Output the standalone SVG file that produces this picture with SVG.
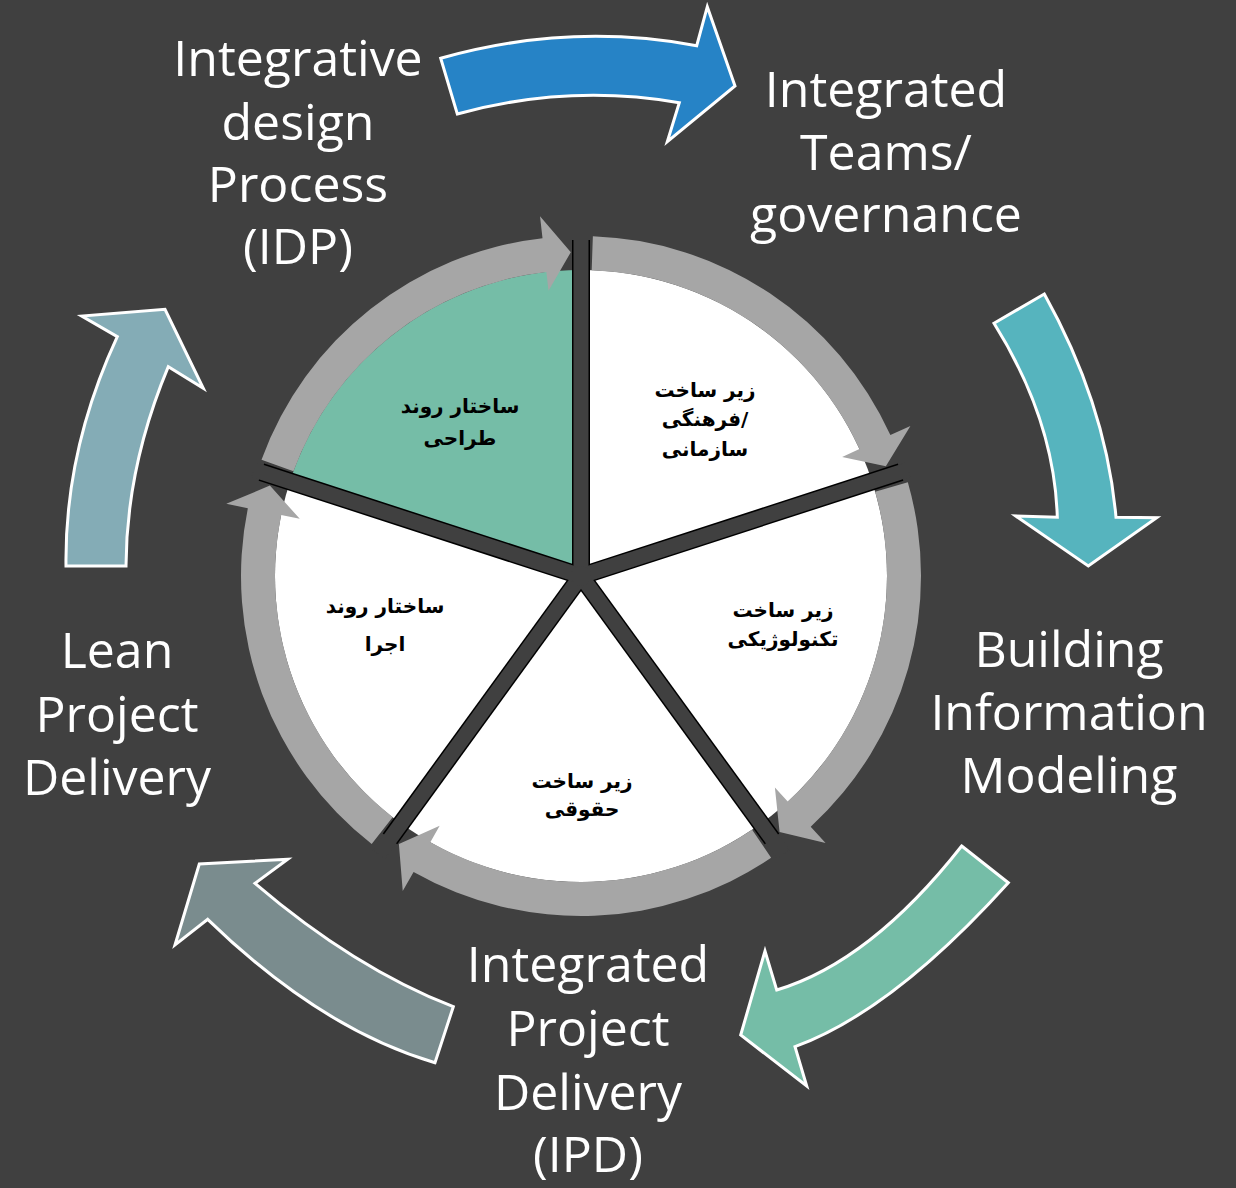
<svg xmlns="http://www.w3.org/2000/svg" width="1236" height="1188" viewBox="0 0 1236 1188">
  <style>
    .lbl { font-family: "Open Sans", "Liberation Sans", sans-serif; font-size: 50px; fill: #FFFFFF; text-anchor: middle; }
    .fa { font-family: "DejaVu Sans", "Noto Sans", sans-serif; font-weight: bold; font-size: 20px; fill: #000000; text-anchor: middle; }
    .big { stroke: #FFFFFF; stroke-width: 3; stroke-linejoin: miter; }
    .ring { fill: #A6A6A6; }
    .spokeB { stroke: #000000; stroke-width: 18; fill: none; }
    .spokeD { stroke: #404040; stroke-width: 15; fill: none; }
  </style>
  <rect x="0" y="0" width="1236" height="1188" fill="#404040"/>

  <g id="connectors">
    <path id="arrow-idp-teams" class="big" fill="#2683C6" d="M440.7,58.3 Q569,22 696.7,45.7 L707.3,6.7 L735,86 L667.3,141.7 L679.3,102.7 Q568,83.5 457.3,114 Z"/>
    <path id="arrow-teams-bim" class="big" fill="#56B4BE" d="M994,323.3 L1044.3,294 Q1106,404.5 1116,517.3 L1156.7,517.7 L1088.3,566 L1015.7,516 L1057.3,517.3 Q1054.5,420 994,323.3 Z"/>
    <path id="arrow-bim-ipd" class="big" fill="#75BDA7" d="M961.7,846 L1008.3,882.7 Q892.5,1011 795,1046.7 L806.7,1086 L740.7,1035 L765,951 L776.7,990 Q870.5,962 961.7,846 Z"/>
    <path id="arrow-ipd-lean" class="big" fill="#7A8C8E" d="M453.3,1006.7 L435,1062.7 Q320.5,1029 207.7,919.3 L175,945 L199.3,864 L287.7,859.3 L255,883.3 Q354,968 453.3,1006.7 Z"/>
    <path id="arrow-lean-idp" class="big" fill="#84ACB6" d="M66,566 L126,566 Q126.4,467 168.3,366.7 L203.3,388.3 L165,309.3 L81.7,316 L117.3,336.7 Q64.5,450.5 66,566 Z"/>
  </g>

  <g id="cycle">
    <g id="sector-design">
      <path fill="#75BDA7" d="M581,576 L290.0,481.4 A306,306 0 0 1 581,270 Z"/>
      <text class="fa" x="460" y="413">ساختار روند</text>
      <text class="fa" x="460" y="445">طراحی</text>
    </g>
    <g id="sector-culture">
      <path fill="#FFFFFF" d="M581,576 L581,270 A306,306 0 0 1 872.0,481.4 Z"/>
      <text class="fa" x="705" y="397">زیر ساخت</text>
      <text class="fa" x="705" y="426">فرهنگی/</text>
      <text class="fa" x="705" y="456">سازمانی</text>
    </g>
    <g id="sector-tech">
      <path fill="#FFFFFF" d="M581,576 L872.0,481.4 A306,306 0 0 1 760.9,823.6 Z"/>
      <text class="fa" x="783" y="617">زیر ساخت</text>
      <text class="fa" x="783" y="646">تکنولوژیکی</text>
    </g>
    <g id="sector-legal">
      <path fill="#FFFFFF" d="M581,576 L760.9,823.6 A306,306 0 0 1 401.1,823.6 Z"/>
      <text class="fa" x="582" y="788">زیر ساخت</text>
      <text class="fa" x="582" y="816">حقوقی</text>
    </g>
    <g id="sector-exec">
      <path fill="#FFFFFF" d="M581,576 L401.1,823.6 A306,306 0 0 1 290.0,481.4 Z"/>
      <text class="fa" x="385" y="613">ساختار روند</text>
      <text class="fa" x="385" y="651">اجرا</text>
    </g>

    <g id="spokes">
      <line class="spokeB" x1="581" y1="576" x2="581" y2="240"/>
      <line class="spokeB" x1="581" y1="576" x2="900.6" y2="472.1"/>
      <line class="spokeB" x1="581" y1="576" x2="772.0" y2="838.9"/>
      <line class="spokeB" x1="581" y1="576" x2="390.0" y2="838.9"/>
      <line class="spokeB" x1="581" y1="576" x2="261.4" y2="472.1"/>
      <line class="spokeD" x1="581" y1="576" x2="581" y2="232"/>
      <line class="spokeD" x1="581" y1="576" x2="908.2" y2="469.7"/>
      <line class="spokeD" x1="581" y1="576" x2="783.2" y2="854.3"/>
      <line class="spokeD" x1="581" y1="576" x2="378.8" y2="854.3"/>
      <line class="spokeD" x1="581" y1="576" x2="253.8" y2="469.7"/>
      <circle cx="581" cy="576" r="10" fill="#404040"/>
    </g>

    <g id="ring">
      <path class="ring" d="M592.87,236.21 A340,340 0 0 1 890.39,435.00 L910.41,425.88 L885.85,466.25 L842.16,456.98 L859.45,449.10 A306,306 0 0 0 591.68,270.19 Z"/>
      <path class="ring" d="M907.83,482.28 A340,340 0 0 1 810.70,826.68 L825.56,842.90 L779.58,832.01 L774.89,787.60 L787.73,801.61 A306,306 0 0 0 875.15,491.65 Z"/>
      <path class="ring" d="M771.12,857.87 A340,340 0 0 1 413.58,871.92 L402.74,891.07 L398.89,843.97 L439.68,825.79 L430.32,842.33 A306,306 0 0 0 752.11,829.69 Z"/>
      <path class="ring" d="M371.68,843.92 A340,340 0 0 1 247.83,508.21 L226.27,503.83 L269.87,485.61 L299.76,518.78 L281.14,514.99 A306,306 0 0 0 392.61,817.13 Z"/>
      <path class="ring" d="M261.50,459.71 A340,340 0 0 1 542.51,238.19 L540.02,216.33 L570.82,252.16 L548.51,290.85 L546.36,271.97 A306,306 0 0 0 293.45,471.34 Z"/>
    </g>
  </g>

  <g id="node-idp">
    <text class="lbl" x="298" y="76">Integrative</text>
    <text class="lbl" x="298" y="140">design</text>
    <text class="lbl" x="298" y="202">Process</text>
    <text class="lbl" x="298" y="264">(IDP)</text>
  </g>
  <g id="node-teams">
    <text class="lbl" x="886" y="107">Integrated</text>
    <text class="lbl" x="886" y="170">Teams/</text>
    <text class="lbl" x="886" y="232">governance</text>
  </g>
  <g id="node-bim">
    <text class="lbl" x="1069" y="667">Building</text>
    <text class="lbl" x="1069" y="730">Information</text>
    <text class="lbl" x="1069" y="793">Modeling</text>
  </g>
  <g id="node-ipd">
    <text class="lbl" x="588" y="982">Integrated</text>
    <text class="lbl" x="588" y="1046">Project</text>
    <text class="lbl" x="588" y="1110">Delivery</text>
    <text class="lbl" x="588" y="1172">(IPD)</text>
  </g>
  <g id="node-lean">
    <text class="lbl" x="117" y="668">Lean</text>
    <text class="lbl" x="117" y="732">Project</text>
    <text class="lbl" x="117" y="795">Delivery</text>
  </g>
</svg>
